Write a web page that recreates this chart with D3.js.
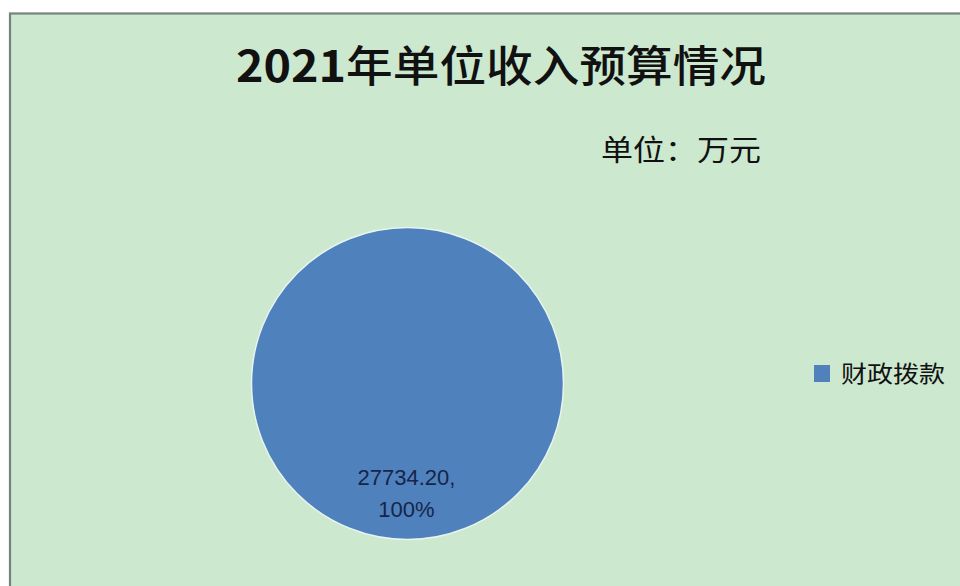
<!DOCTYPE html>
<html>
<head>
<meta charset="utf-8">
<script src="https://cdn.jsdelivr.net/npm/d3@7/dist/d3.min.js"></script>
<style>
html,body{margin:0;padding:0;background:#fff;}
svg{display:block;}
</style>
</head>
<body>
<svg id="chart" width="960" height="586"></svg>
<script>
const titleYear = "2021";
const titleRest = "年单位收入预算情况";
const unitText = "单位：万元";
const categories = ["财政拨款"];
const values = [27734.20];
const colors = ["#4F81BD"];

const svg = d3.select("#chart");
const W = 960, H = 586;

// chart area frame
svg.append("rect")
  .attr("x", 10).attr("y", 13.5)
  .attr("width", W + 10).attr("height", H)
  .attr("fill", "#CCE8CF")
  .attr("stroke", "#75837a").attr("stroke-width", 2.2);

// title
const title = svg.append("text")
  .attr("x", 236).attr("y", 82)
  .attr("textLength", 530).attr("lengthAdjust", "spacingAndGlyphs")
  .attr("font-family", "'Noto Sans CJK SC', sans-serif")
  .attr("font-size", 43)
  .attr("fill", "#111");
title.append("tspan").attr("font-weight", "bold").text(titleYear);
title.append("tspan").attr("font-weight", 500).text(titleRest);

// unit
svg.append("text")
  .attr("x", 601).attr("y", 161)
  .attr("textLength", 160).attr("lengthAdjust", "spacingAndGlyphs")
  .attr("font-family", "'Noto Sans CJK SC', sans-serif")
  .attr("font-size", 29)
  .attr("fill", "#111")
  .text(unitText);

// pie
const cx = 407.5, cy = 383.5, r = 156;
const total = d3.sum(values);
const pie = d3.pie().sort(null)(values);
const arc = d3.arc().innerRadius(0).outerRadius(r);
const color = d3.scaleOrdinal().domain(categories).range(colors);

const g = svg.append("g").attr("transform", `translate(${cx},${cy})`);
g.selectAll("path.slice").data(pie).enter().append("path")
  .attr("class", "slice")
  .attr("d", arc)
  .attr("fill", (d, i) => color(categories[i]))
  .attr("stroke", "#e8f4f0").attr("stroke-width", 1.5);

// data label
const fmt = d3.format(".2f");
const pct = d3.format(".0%");
pie.forEach((d, i) => {
  const lbl = g.append("text")
    .attr("text-anchor", "middle")
    .attr("font-family", "'Liberation Sans', Arial, sans-serif")
    .attr("font-size", 22)
    .attr("fill", "#16254a");
  lbl.append("tspan").attr("x", -1).attr("y", 101.5).text(fmt(values[i]) + ",");
  lbl.append("tspan").attr("x", -1).attr("y", 133).text(pct(values[i] / total));
});

// legend
const leg = svg.append("g").attr("transform", "translate(814,365)");
categories.forEach((c, i) => {
  leg.append("rect").attr("x", 0).attr("y", i * 30)
    .attr("width", 16).attr("height", 17)
    .attr("fill", color(c));
  leg.append("text").attr("x", 27).attr("y", i * 30 + 17)
    .attr("textLength", 104).attr("lengthAdjust", "spacingAndGlyphs")
    .attr("font-family", "'Noto Sans CJK SC', sans-serif")
    .attr("font-size", 23).attr("fill", "#111")
    .text(c);
});
</script>
</body>
</html>
